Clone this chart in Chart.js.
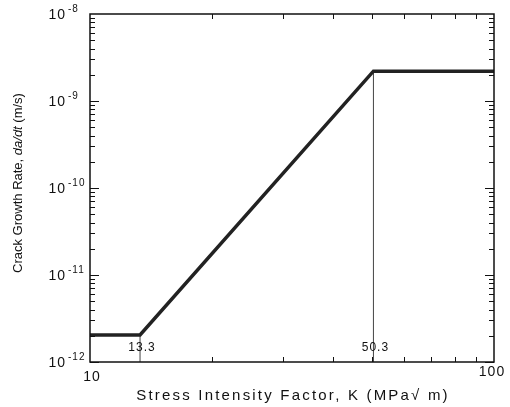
<!DOCTYPE html>
<html>
<head>
<meta charset="utf-8">
<script src="https://cdn.jsdelivr.net/npm/chart.js@4/dist/chart.umd.min.js"></script>
<style>
  html, body { margin: 0; padding: 0; background: #fff; }
  canvas { display: block; }
</style>
</head>
<body>
<canvas id="crackChart" width="510" height="407"></canvas>
<script>
// crack growth curve (K in MPa√m, da/dt in m/s)
const kValues    = [10, 13.3, 50.3, 100];
const rateValues = [2.05e-12, 2.05e-12, 2.2e-9, 2.2e-9];

// threshold markers dropped to the x axis
const markerK    = [13.3, 50.3];
const markerRate = [2.05e-12, 2.2e-9];

const xTicks = [10, 100];
const yExps  = [-12, -11, -10, -9, -8];

const FONT = '"Liberation Sans", Arial, sans-serif';

const decoPlugin = {
    id: 'deco',
    afterDraw(chart) {
        const ctx = chart.ctx;
        const { left, right, top, bottom } = chart.chartArea;
        const xs = chart.scales.x, ys = chart.scales.y;
        ctx.save();

        // frame
        ctx.strokeStyle = '#111';
        ctx.lineWidth = 1.5;
        ctx.strokeRect(left, top, right - left, bottom - top);

        // inward ticks, all four sides
        ctx.lineWidth = 1;
        ctx.beginPath();
        for (let e = -12; e < -8; e++) {
            for (let m = 1; m <= 9; m++) {
                const py = Math.round(ys.getPixelForValue(m * Math.pow(10, e))) + 0.5;
                const len = m === 1 ? 9 : 5;
                ctx.moveTo(left, py);  ctx.lineTo(left + len, py);
                ctx.moveTo(right, py); ctx.lineTo(right - len, py);
            }
        }
        for (let m = 2; m <= 9; m++) {
            const px = Math.round(xs.getPixelForValue(m * 10)) + 0.5;
            ctx.moveTo(px, bottom); ctx.lineTo(px, bottom - 5);
            ctx.moveTo(px, top);    ctx.lineTo(px, top + 5);
        }
        ctx.stroke();

        ctx.fillStyle = '#111';
        ctx.letterSpacing = '1px';

        // y tick labels 10^n
        yExps.forEach(e => {
            const py = ys.getPixelForValue(Math.pow(10, e));
            ctx.font = '14px ' + FONT;
            ctx.textAlign = 'right';
            ctx.textBaseline = 'middle';
            ctx.fillText('10', 66, py + 1);
            ctx.font = '10px ' + FONT;
            ctx.textAlign = 'left';
            ctx.fillText(String(e), 68, py - 5);
        });

        // x tick labels
        ctx.font = '14px ' + FONT;
        ctx.textAlign = 'center';
        ctx.textBaseline = 'middle';
        xTicks.forEach((v, i) => {
            const px = xs.getPixelForValue(v);
            ctx.fillText(String(v), px + (i === 0 ? 2 : -2), i === 0 ? 377 : 372);
        });

        // marker labels
        ctx.font = '12px ' + FONT;
        markerK.forEach(k => {
            const px = xs.getPixelForValue(k);
            ctx.fillText(k.toFixed(1), px + 2, bottom - 14);
        });

        // x axis title
        ctx.font = '15px ' + FONT;
        ctx.letterSpacing = '2.2px';
        ctx.textAlign = 'center';
        ctx.fillText('Stress Intensity Factor, K (MPa\u221A m)', 293, 396);

        // y axis title (mixed italic)
        ctx.letterSpacing = '0px';
        ctx.translate(18, 183);
        ctx.rotate(-Math.PI / 2);
        const parts = [
            ['Crack Growth Rate, ', ''],
            ['da/dt', 'italic '],
            [' (m/s)', '']
        ];
        let total = 0;
        parts.forEach(p => { ctx.font = p[1] + '13px ' + FONT; total += ctx.measureText(p[0]).width; });
        let cx = -total / 2;
        ctx.textAlign = 'left';
        parts.forEach(p => {
            ctx.font = p[1] + '13px ' + FONT;
            ctx.fillText(p[0], cx, 0);
            cx += ctx.measureText(p[0]).width;
        });
        ctx.restore();
    }
};

const markerSets = markerK.map((k, i) => ({
    data: [{ x: k, y: 1e-12 }, { x: k, y: markerRate[i] }],
    borderColor: '#444',
    borderWidth: 1,
    pointRadius: 0,
    order: 2,
}));

new Chart(document.getElementById('crackChart'), {
    type: 'line',
    data: {
        datasets: [
            {
                data: kValues.map((k, i) => ({ x: k, y: rateValues[i] })),
                borderColor: '#222',
                borderWidth: 3.5,
                pointRadius: 0,
                borderJoinStyle: 'miter',
                order: 1,
            },
            ...markerSets,
        ],
    },
    options: {
        responsive: false,
        animation: false,
        devicePixelRatio: 1,
        layout: { padding: { left: 82, right: 16, top: 14, bottom: 37 } },
        plugins: { legend: { display: false }, tooltip: { enabled: false } },
        scales: {
            x: {
                type: 'logarithmic', min: 10, max: 100,
                ticks: { display: false },
                grid: { display: false },
                border: { display: false },
            },
            y: {
                type: 'logarithmic', min: 1e-12, max: 1e-8,
                ticks: { display: false },
                grid: { display: false },
                border: { display: false },
            },
        },
    },
    plugins: [decoPlugin],
});
</script>
</body>
</html>
